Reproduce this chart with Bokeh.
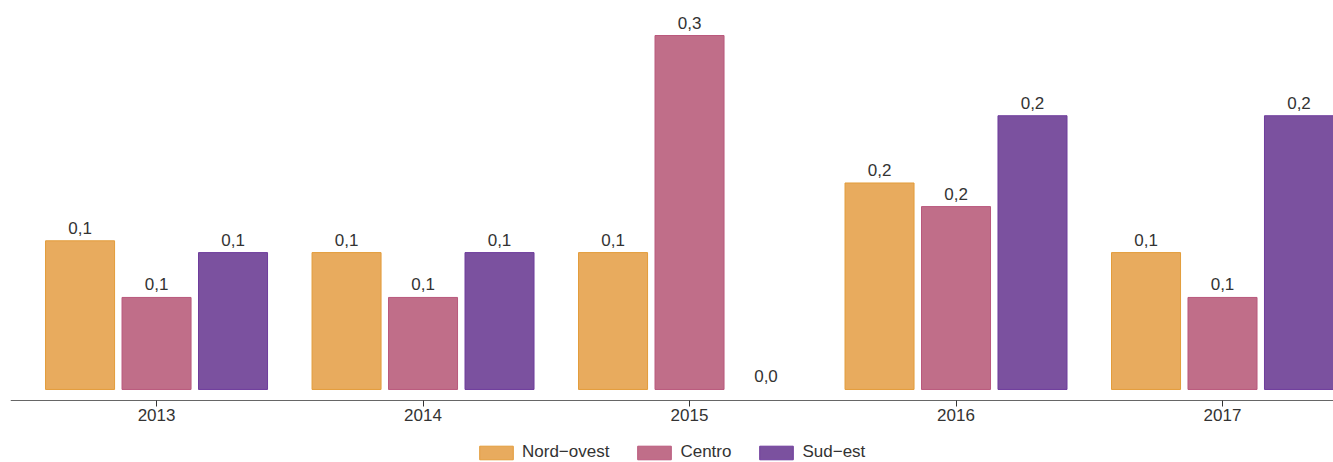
from bokeh.plotting import figure
from bokeh.models import ColumnDataSource, FixedTicker, Legend, LegendItem, Range1d
from bokeh.transform import dodge
from bokeh.embed import file_html
from bokeh.resources import INLINE
from bokeh.core.properties import value

years = ["2013", "2014", "2015", "2016", "2017"]
series = ["Nord−ovest", "Centro", "Sud−est"]
nord_ovest = [0.126, 0.116, 0.116, 0.175, 0.116]
centro = [0.078, 0.078, 0.300, 0.155, 0.078]
sud_est = [0.116, 0.116, 0.0, 0.232, 0.232]

fills = ["#E8AB5E", "#C06E89", "#7B519F"]
lines = ["#E39C3A", "#B9587C", "#6E3C9C"]
FONT = "Liberation Sans"

idx = list(range(len(years)))
data = dict(x=idx)
for key, vals in (("nord", nord_ovest), ("centro", centro), ("sud", sud_est)):
    data[key] = vals
    data[key + "_lbl"] = [f"{v:.1f}".replace(".", ",") for v in vals]
    data[key + "_la"] = [1.0 if v > 0 else 0.0 for v in vals]
src = ColumnDataSource(data)

p = figure(frame_width=1323, frame_height=454, output_backend="svg", toolbar_location=None,
           x_range=Range1d(-0.548, 4.4165), y_range=Range1d(-0.0619, 0.3229),
           min_border_left=10, min_border_right=0, min_border_top=8, min_border_bottom=0)
p.outline_line_color = None
p.xgrid.visible = False
p.ygrid.visible = False
p.yaxis.visible = False
p.background_fill_color = None
p.border_fill_color = "white"

step = 0.287
width = 0.259
cols = ["nord", "centro", "sud"]
renderers = []
for i, (c, f, l) in enumerate(zip(cols, fills, lines)):
    off = (i - 1) * step
    r = p.vbar(x=dodge("x", off), top=c, width=width, bottom=0, source=src,
               fill_color=f, line_color=l, line_width=1, line_alpha=c + "_la")
    renderers.append(r)
    p.text(x=dodge("x", off), y=c, text=c + "_lbl", source=src,
           text_align="center", text_baseline="bottom", y_offset=-7,
           text_font=value(FONT), text_font_size="17px", text_color="#333333")

ax = p.xaxis[0]
ax.fixed_location = -0.0093
ax.ticker = FixedTicker(ticks=idx)
ax.major_label_overrides = {i: y for i, y in zip(idx, years)}
ax.minor_tick_line_color = None
ax.major_tick_in = 0
ax.major_tick_out = 6
ax.axis_line_color = "#666666"
ax.major_tick_line_color = "#333333"
ax.major_label_text_font = FONT
ax.major_label_text_font_size = "17px"
ax.major_label_text_color = "#333333"
ax.major_label_standoff = 3

legend = Legend(items=[LegendItem(label=s, renderers=[r]) for s, r in zip(series, renderers)],
                orientation="horizontal", location=(465, 0))
legend.glyph_width = 42
legend.glyph_height = 17
legend.label_text_font = FONT
legend.label_text_font_size = "17px"
legend.label_text_color = "#333333"
legend.label_standoff = 5
legend.spacing = 24
legend.padding = 0
legend.margin = 0
legend.border_line_color = None
legend.background_fill_color = None
p.add_layout(legend)

open("out.html", "w").write(file_html(p, INLINE))
